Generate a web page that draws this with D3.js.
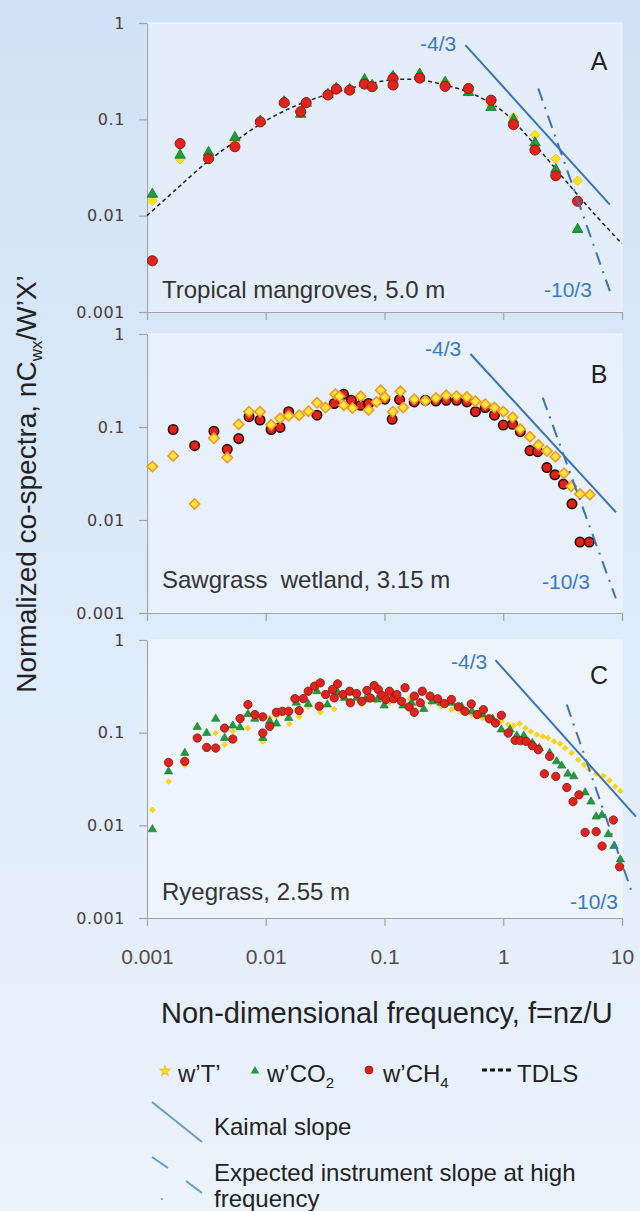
<!DOCTYPE html>
<html>
<head>
<meta charset="utf-8">
<script src="https://d3js.org/d3.v7.min.js"></script>
<style>
  body { margin: 0; }
</style>
</head>
<body>
<script>

// ---- data: [f = nz/U, normalized co-spectrum] ----

// A: tropical mangroves, 5.0 m
var mangroveT = [[0.00111,0.0143],[0.0019,0.0386],[0.0033,0.042],[0.0055,0.058],[0.009,0.095],[0.0143,0.15],[0.0197,0.115],[0.0219,0.148],[0.0334,0.18],[0.0393,0.207],[0.0509,0.203],[0.0679,0.25],[0.0787,0.222],[0.118,0.272],[0.198,0.285],[0.324,0.245],[0.51,0.195],[0.79,0.14],[1.22,0.105],[1.85,0.0686],[2.77,0.039],[4.23,0.023]];
var mangroveCO2 = [[0.00111,0.0167],[0.0019,0.0425],[0.0033,0.0453],[0.0055,0.0648],[0.009,0.096],[0.0143,0.152],[0.0197,0.113],[0.0219,0.147],[0.0334,0.182],[0.0393,0.21],[0.0509,0.205],[0.0679,0.258],[0.0787,0.225],[0.118,0.279],[0.198,0.295],[0.324,0.242],[0.51,0.19],[0.79,0.133],[1.22,0.1],[1.85,0.057],[2.77,0.03],[4.23,0.0072]];
var mangroveCH4 = [[0.00111,0.0034],[0.0019,0.056],[0.0033,0.039],[0.0055,0.052],[0.009,0.094],[0.0143,0.149],[0.0197,0.12],[0.0219,0.149],[0.0334,0.179],[0.0393,0.206],[0.0509,0.201],[0.0679,0.232],[0.0787,0.218],[0.118,0.266],[0.118,0.227],[0.198,0.268],[0.324,0.22],[0.51,0.209],[0.79,0.158],[1.22,0.088],[1.85,0.048],[2.77,0.026],[4.23,0.0141]];
var mangroveTDLS = [[0.001,0.01],[0.00178,0.019],[0.00316,0.0355],[0.00562,0.06],[0.01,0.0966],[0.0178,0.138],[0.0316,0.178],[0.0562,0.216],[0.1,0.251],[0.178,0.26],[0.316,0.229],[0.562,0.182],[1,0.12],[1.78,0.0575],[3.16,0.0251],[5.62,0.011],[10,0.0051]];

// B: sawgrass wetland, 3.15 m
var sawgrassT = [[0.00111,0.0376],[0.00166,0.0489],[0.00252,0.0149],[0.00366,0.0755],[0.00474,0.0469],[0.00592,0.107],[0.00723,0.146],[0.00895,0.146],[0.0111,0.106],[0.0132,0.124],[0.0156,0.132],[0.0191,0.134],[0.0229,0.148],[0.027,0.182],[0.0319,0.162],[0.0385,0.225],[0.0417,0.214],[0.0454,0.171],[0.0537,0.16],[0.0631,0.214],[0.0735,0.152],[0.0857,0.186],[0.0929,0.248],[0.1007,0.21],[0.1175,0.146],[0.136,0.242],[0.1435,0.162],[0.178,0.199],[0.221,0.191],[0.271,0.205],[0.331,0.219],[0.405,0.216],[0.494,0.21],[0.583,0.189],[0.705,0.176],[0.843,0.162],[1.0,0.146],[1.2,0.127],[1.39,0.095],[1.68,0.0787],[1.98,0.064],[2.33,0.0552],[2.75,0.048],[3.25,0.0319],[3.74,0.023],[4.43,0.019],[5.37,0.0187]];
var sawgrassCH4 = [[0.00166,0.094],[0.00252,0.063],[0.00366,0.09],[0.00474,0.0575],[0.00592,0.075],[0.00723,0.129],[0.00895,0.119],[0.0111,0.094],[0.0132,0.099],[0.0156,0.146],[0.027,0.134],[0.0377,0.179],[0.0452,0.225],[0.0526,0.194],[0.0631,0.171],[0.0735,0.179],[0.1007,0.199],[0.116,0.121],[0.134,0.197],[0.178,0.186],[0.221,0.194],[0.271,0.19],[0.331,0.194],[0.405,0.194],[0.494,0.186],[0.583,0.146],[0.705,0.162],[0.843,0.134],[1.0,0.105],[1.2,0.107],[1.39,0.089],[1.68,0.0557],[1.95,0.0543],[2.33,0.0366],[2.72,0.0306],[3.21,0.0243],[3.79,0.0149],[4.43,0.0058],[5.3,0.0058]];

// C: ryegrass, 2.55 m
var ryegrassT = [[0.00111,0.0147],[0.00152,0.0297],[0.00208,0.0443],[0.00265,0.0927],[0.00379,0.0991],[0.0045,0.0741],[0.00528,0.103],[0.00708,0.112],[0.00944,0.0805],[0.0108,0.144],[0.0123,0.15],[0.0158,0.124],[0.0191,0.148],[0.0228,0.19],[0.0288,0.166],[0.0377,0.18],[0.0492,0.218],[0.0643,0.201],[0.0841,0.222],[0.11,0.21],[0.134,0.213],[0.164,0.232],[0.2,0.206],[0.245,0.21],[0.299,0.193],[0.366,0.177],[0.447,0.166],[0.546,0.157],[0.667,0.144],[0.815,0.135],[0.964,0.133],[1.1,0.122],[1.22,0.119],[1.37,0.125],[1.54,0.112],[1.7,0.103],[1.92,0.0951],[2.15,0.0912],[2.38,0.0875],[2.68,0.0805],[3.01,0.076],[3.32,0.0682],[3.77,0.0603],[4.28,0.051],[4.8,0.045],[5.3,0.0404],[6.06,0.036],[6.97,0.0342],[7.85,0.0305],[8.75,0.0262],[9.68,0.0235]];
var ryegrassCO2 = [[0.00111,0.00905],[0.00152,0.0381],[0.00208,0.0603],[0.00265,0.115],[0.00318,0.0991],[0.00379,0.141],[0.0045,0.0875],[0.00528,0.119],[0.00608,0.114],[0.00708,0.159],[0.0081,0.141],[0.00944,0.0875],[0.0108,0.133],[0.0123,0.125],[0.0156,0.144],[0.0181,0.21],[0.0228,0.204],[0.027,0.28],[0.033,0.201],[0.0403,0.273],[0.046,0.237],[0.0582,0.237],[0.0687,0.228],[0.0869,0.228],[0.0993,0.196],[0.1175,0.237],[0.1435,0.196],[0.169,0.21],[0.214,0.18],[0.253,0.218],[0.299,0.21],[0.366,0.21],[0.447,0.19],[0.546,0.17],[0.667,0.157],[0.815,0.141],[0.964,0.108],[1.14,0.108],[1.3,0.0927],[1.49,0.0927],[1.76,0.0773],[2.01,0.0682],[2.46,0.0603],[2.81,0.049],[3.1,0.044],[3.5,0.036],[3.93,0.0337],[4.89,0.0226],[5.48,0.018],[6.06,0.0124],[6.79,0.0129],[7.66,0.008],[8.57,0.00597],[9.68,0.00428]];
var ryegrassCH4 = [[0.00152,0.0477],[0.00208,0.049],[0.00265,0.0875],[0.00318,0.0693],[0.00379,0.0682],[0.0045,0.112],[0.00528,0.0853],[0.00608,0.142],[0.00708,0.201],[0.0081,0.157],[0.00944,0.148],[0.00944,0.0991],[0.0108,0.117],[0.0123,0.166],[0.0138,0.17],[0.0156,0.17],[0.0176,0.233],[0.0191,0.173],[0.0207,0.233],[0.0228,0.28],[0.0258,0.318],[0.0288,0.345],[0.0282,0.193],[0.0319,0.258],[0.0365,0.292],[0.0377,0.237],[0.0403,0.336],[0.0446,0.258],[0.0509,0.28],[0.0516,0.21],[0.0582,0.264],[0.0643,0.218],[0.0711,0.285],[0.076,0.237],[0.0818,0.323],[0.0887,0.292],[0.0948,0.252],[0.1028,0.228],[0.11,0.28],[0.119,0.232],[0.127,0.258],[0.139,0.218],[0.149,0.305],[0.161,0.19],[0.178,0.166],[0.178,0.248],[0.2,0.21],[0.208,0.28],[0.242,0.248],[0.28,0.232],[0.32,0.206],[0.366,0.228],[0.418,0.19],[0.477,0.17],[0.538,0.204],[0.604,0.157],[0.681,0.177],[0.762,0.141],[0.861,0.127],[0.964,0.154],[1.1,0.0991],[1.26,0.0826],[1.39,0.0819],[1.56,0.0805],[1.76,0.0723],[1.97,0.0655],[2.22,0.036],[2.46,0.0554],[2.77,0.0337],[3.43,0.0256],[3.87,0.018],[4.34,0.0213],[4.89,0.0084],[6.06,0.00854],[6.79,0.00597],[8.46,0.0114],[9.55,0.00357]];

// reference slopes drawn on each panel: [start, end]
var kaimalA = [[0.48,0.59],[7.9,0.013]];
var instrumentA = [[1.97,0.21],[7.9,0.00165]];
var kaimalB = [[0.53,0.61],[8.9,0.0121]];
var instrumentB = [[2.15,0.207],[8.87,0.00144]];
var kaimalC = [[0.86,0.607],[13.1,0.0124]];
var instrumentC = [[3.43,0.201],[12.2,0.00184]];

var xTicks = [0.001, 0.01, 0.1, 1, 10];
var yTicks = [0.001, 0.01, 0.1, 1];

// ---- drawing ----
var W = 640, H = 1211;
var FONT = "'Liberation Sans', Arial, sans-serif";
var BLUE = "#3a73ba";

var svg = d3.select("body").append("svg")
    .attr("width", W).attr("height", H)
    .style("display", "block");

var grad = svg.append("defs").append("linearGradient")
    .attr("id", "bg").attr("x1", 0).attr("y1", 0).attr("x2", 0).attr("y2", 1);
grad.append("stop").attr("offset", "0%").attr("stop-color", "#cfe2f7");
grad.append("stop").attr("offset", "100%").attr("stop-color", "#ebf3fc");
svg.append("rect").attr("width", W).attr("height", H).attr("fill", "url(#bg)");

var x = d3.scaleLog().domain([0.001, 10]).range([147, 622]);

var yellowA = {type: d3.symbolSquare, size: 46, rot: true, fill: "#ffe11c", stroke: "#f2c200", sw: 0.8};
var greenA  = {type: d3.symbolTriangle, size: 48, fill: "#1f9b3a", stroke: "#16752b", sw: 0.8};
var redA    = {type: d3.symbolCircle, size: 80, fill: "#e2231c", stroke: "#8a1c12", sw: 1};

var panels = [
  {letter: "A", site: "Tropical mangroves, 5.0 m", top: 23, bottom: 312, fill: "#e3eefa",
   series: [[mangroveT, yellowA], [mangroveCO2, greenA], [mangroveCH4, redA]],
   tdls: mangroveTDLS, kaimal: kaimalA, inst: instrumentA,
   lab43: [420, 51], lab103: [544, 297], siteY: 298, letterY: 70},
  {letter: "B", site: "Sawgrass\u00a0 wetland, 3.15 m", top: 334, bottom: 613, fill: "#e7f0fb",
   series: [[sawgrassCH4, {type: d3.symbolCircle, size: 70, fill: "#e3201a", stroke: "#2a0c08", sw: 1.6}],
            [sawgrassT, {type: d3.symbolSquare, size: 54, rot: true, fill: "#ffe63a", stroke: "#f5931e", sw: 1.5}]],
   kaimal: kaimalB, inst: instrumentB,
   lab43: [425, 356], lab103: [542, 589], siteY: 588, letterY: 383},
  {letter: "C", site: "Ryegrass, 2.55 m", top: 640, bottom: 918, fill: "#edf4fc",
   series: [[ryegrassT, {type: d3.symbolSquare, size: 16, rot: true, fill: "#ffd60a", stroke: "#f4c400", sw: 0.6}],
            [ryegrassCO2, {type: d3.symbolTriangle, size: 30, fill: "#1f9b3a", stroke: "#16752b", sw: 0.6}],
            [ryegrassCH4, {type: d3.symbolCircle, size: 54, fill: "#e2231c", stroke: "#8a1c12", sw: 0.9}]],
   kaimal: kaimalC, inst: instrumentC,
   lab43: [451, 669], lab103: [570, 909], siteY: 900, letterY: 684, xLabels: true}
];

panels.forEach(function (p) {
  var y = d3.scaleLog().domain([0.001, 1]).range([p.bottom, p.top]);
  var g = svg.append("g");

  g.append("rect")
      .attr("x", x(0.001)).attr("y", y(1))
      .attr("width", x(10) - x(0.001)).attr("height", y(0.001) - y(1))
      .attr("fill", p.fill).attr("stroke", "#f2f7fd").attr("stroke-width", 1);

  // axes
  var ya = g.append("g").attr("transform", "translate(" + x(0.001) + ",0)")
      .call(d3.axisLeft(y).tickValues(yTicks).tickSize(8).tickSizeOuter(0).tickPadding(14)
            .tickFormat(function (d) { return String(d); }));
  ya.selectAll("text").attr("font-family", "'DejaVu Sans', Verdana, sans-serif")
      .attr("font-size", 16).attr("fill", "#4b3b3b").attr("letter-spacing", 0.6);

  var xa = g.append("g").attr("transform", "translate(0," + y(0.001) + ")")
      .call(d3.axisBottom(x).tickValues(xTicks).tickSize(8).tickSizeOuter(0).tickPadding(23)
            .tickFormat(function (d) { return p.xLabels ? String(d) : ""; }));
  xa.selectAll("text").attr("font-family", FONT).attr("font-size", 21).attr("fill", "#574b4b");

  [ya, xa].forEach(function (a) {
    a.select(".domain").attr("stroke", "#a3a3a3").attr("stroke-width", 1.2);
    a.selectAll(".tick line").attr("stroke", "#a3a3a3").attr("stroke-width", 1.2);
  });

  // TDLS reference curve
  if (p.tdls) {
    g.append("path").datum(p.tdls)
        .attr("d", d3.line().x(function (d) { return x(d[0]); }).y(function (d) { return y(d[1]); })
              .curve(d3.curveCatmullRom))
        .attr("fill", "none").attr("stroke", "#222").attr("stroke-width", 1.5)
        .attr("stroke-dasharray", "4,3");
  }

  // points
  p.series.forEach(function (s) {
    var st = s[1];
    g.append("g").selectAll("path").data(s[0]).enter().append("path")
        .attr("transform", function (d) {
          return "translate(" + x(d[0]) + "," + y(d[1]) + ")" + (st.rot ? " rotate(45)" : "");
        })
        .attr("d", d3.symbol().type(st.type).size(st.size))
        .attr("fill", st.fill).attr("stroke", st.stroke).attr("stroke-width", st.sw);
  });

  // slopes
  var seg = d3.line().x(function (d) { return x(d[0]); }).y(function (d) { return y(d[1]); });
  g.append("path").datum(p.kaimal).attr("d", seg)
      .attr("stroke", BLUE).attr("stroke-width", 2).attr("fill", "none");
  g.append("path").datum(p.inst).attr("d", seg)
      .attr("stroke", BLUE).attr("stroke-width", 2).attr("fill", "none")
      .attr("stroke-dasharray", "13,7,2,7");

  g.append("text").attr("x", p.lab43[0]).attr("y", p.lab43[1]).text("-4/3")
      .attr("font-family", FONT).attr("font-size", 21).attr("fill", "#3b78c8");
  g.append("text").attr("x", p.lab103[0]).attr("y", p.lab103[1]).text("-10/3")
      .attr("font-family", FONT).attr("font-size", 21).attr("fill", "#3b78c8");

  g.append("text").attr("x", 599).attr("y", p.letterY).text(p.letter)
      .attr("text-anchor", "middle").attr("font-family", FONT).attr("font-size", 25).attr("fill", "#222");
  g.append("text").attr("x", 162).attr("y", p.siteY).text(p.site)
      .attr("font-family", FONT).attr("font-size", 24).attr("fill", "#333");
});

// axis titles
var yt = svg.append("text")
    .attr("transform", "translate(36,484) rotate(-90)")
    .attr("text-anchor", "middle")
    .attr("font-family", FONT).attr("font-size", 28).attr("fill", "#222");
yt.append("tspan").text("Normalized co-spectra, nC");
yt.append("tspan").attr("font-size", 17).attr("dy", 6).text("wx");
yt.append("tspan").attr("dy", -6).text("/W\u2019X\u2019");

svg.append("text").attr("x", 161).attr("y", 1023)
    .attr("font-family", FONT).attr("font-size", 29).attr("fill", "#222")
    .text("Non-dimensional frequency, f=nz/U");

// legend
var leg = svg.append("g").attr("font-family", FONT).attr("font-size", 24).attr("fill", "#222");

leg.append("path").attr("transform", "translate(165,1071)")
    .attr("d", d3.symbol().type(d3.symbolStar).size(30))
    .attr("fill", "#ffe033").attr("stroke", "#f0c419").attr("stroke-width", 1.2);
leg.append("text").attr("x", 178).attr("y", 1082).text("w\u2019T\u2019");

leg.append("path").attr("transform", "translate(255,1071)")
    .attr("d", d3.symbol().type(d3.symbolTriangle).size(32)).attr("fill", "#1f9b3a");
var t2 = leg.append("text").attr("x", 267).attr("y", 1082);
t2.append("tspan").text("w\u2019CO");
t2.append("tspan").attr("font-size", 15).attr("dy", 6).text("2");

leg.append("path").attr("transform", "translate(369,1070)")
    .attr("d", d3.symbol().type(d3.symbolCircle).size(50))
    .attr("fill", "#d8231c").attr("stroke", "#8a1c12").attr("stroke-width", 0.8);
var t3 = leg.append("text").attr("x", 383).attr("y", 1082);
t3.append("tspan").text("w\u2019CH");
t3.append("tspan").attr("font-size", 15).attr("dy", 6).text("4");

leg.append("line").attr("x1", 482).attr("x2", 513).attr("y1", 1070).attr("y2", 1070)
    .attr("stroke", "#111").attr("stroke-width", 3).attr("stroke-dasharray", "5,3");
leg.append("text").attr("x", 517).attr("y", 1082).text("TDLS");

var LEGBLUE = "#6c98cf";
leg.append("line").attr("x1", 152).attr("y1", 1102).attr("x2", 202).attr("y2", 1142)
    .attr("stroke", LEGBLUE).attr("stroke-width", 2);
leg.append("text").attr("x", 214).attr("y", 1135).text("Kaimal slope");

leg.append("line").attr("x1", 152).attr("y1", 1157).attr("x2", 168).attr("y2", 1168)
    .attr("stroke", LEGBLUE).attr("stroke-width", 2);
leg.append("line").attr("x1", 186).attr("y1", 1181).attr("x2", 202).attr("y2", 1193)
    .attr("stroke", LEGBLUE).attr("stroke-width", 2);
leg.append("circle").attr("cx", 162).attr("cy", 1199).attr("r", 1.1).attr("fill", LEGBLUE);
leg.append("text").attr("x", 214).attr("y", 1181).text("Expected instrument slope at high");
leg.append("text").attr("x", 214).attr("y", 1207).text("frequency");

</script>
</body>
</html>
